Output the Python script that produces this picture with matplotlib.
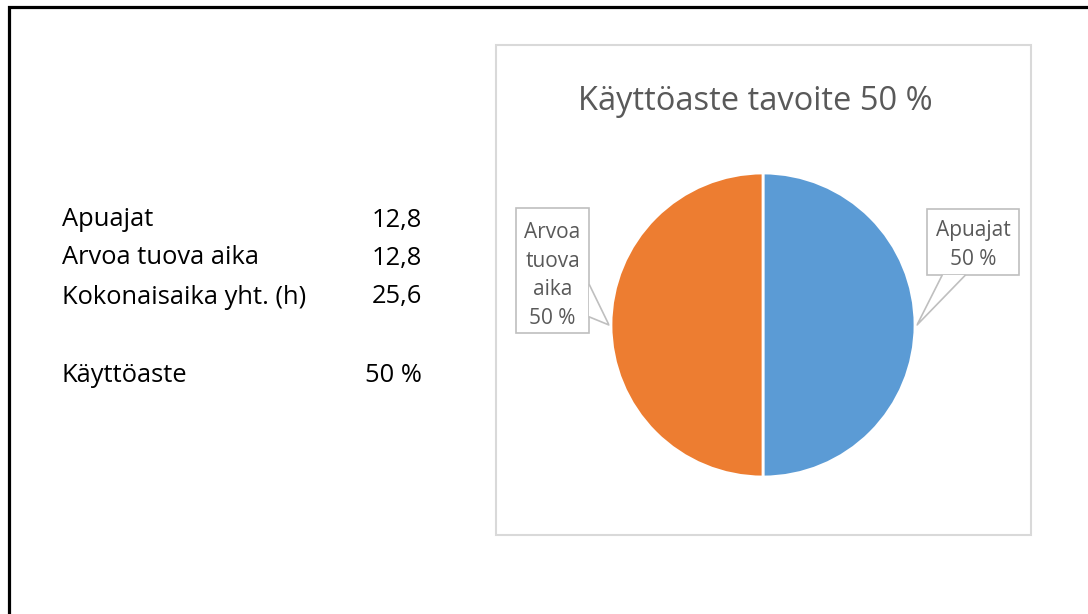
import matplotlib
matplotlib.use('Agg')
import matplotlib.pyplot as plt
from matplotlib.patches import Rectangle, Polygon

plt.rcParams['font.family'] = ['Open Sans', 'DejaVu Sans']

# data
slice_names = ['Apuajat', 'Arvoa tuova aika']
slice_hours = [12.8, 12.8]
slice_colors = ['#5B9BD5', '#ED7D31']
total_hours = sum(slice_hours)
target_pct = 50

table_names = ['Apuajat', 'Arvoa tuova aika', 'Kokonaisaika yht. (h)', '', 'Käyttöaste']
table_values = ['12,8', '12,8', '25,6', '', f'{round(100 * slice_hours[0] / total_hours)} %']

W, H = 1088, 614
fig = plt.figure(figsize=(W / 100, H / 100), dpi=100)

# overlay in pixel coords (origin top-left)
ov = fig.add_axes([0, 0, 1, 1])
ov.set_xlim(0, W)
ov.set_ylim(H, 0)
ov.axis('off')

# sheet border (only top and left visible)
ov.plot([9, 9, W + 5], [H + 5, 7, 7], color='black', lw=2.3, solid_joinstyle='miter')

# left table
row_y = [220, 258, 297, 336, 375]
for name, val, y in zip(table_names, table_values, row_y):
    if not name:
        continue
    ov.text(62, y, name, fontsize=18.4, ha='left', va='center', color='black')
    ov.text(422, y, val, fontsize=18.4, ha='right', va='center', color='black')

# chart area
ov.add_patch(Rectangle((496, 45), 535, 490, fill=False, edgecolor='#D9D9D9', lw=1.5))
ov.text(755, 101, f'Käyttöaste tavoite {target_pct} %', fontsize=23.5, ha='center', va='center',
        color='#595959')

# pie
cx, cy, r = 763, 325, 152
ax = fig.add_axes([(cx - r) / W, (H - cy - r) / H, 2 * r / W, 2 * r / H])
ax.pie(slice_hours, colors=slice_colors, startangle=90, counterclock=False, radius=1,
       wedgeprops=dict(edgecolor='white', linewidth=2))
ax.set_xlim(-1, 1)
ax.set_ylim(-1, 1)
ax.set_aspect('auto')
ax.axis('off')


def to_pixel(x, y):
    dx, dy = ax.transData.transform((x, y))
    return dx, H - dy


pcts = [round(100 * h / total_hours) for h in slice_hours]
gray = '#BFBFBF'

# callout Apuajat
tx, ty = to_pixel(1.0, 0.0)
ov.add_patch(Rectangle((927, 209), 92, 66, facecolor='white', edgecolor=gray, lw=1.2, zorder=3))
ov.add_patch(Polygon([(942, 275), (965, 275), (tx + 2, ty)], closed=True, facecolor='white',
                     edgecolor='none', zorder=4))
ov.plot([942, tx + 2, 965], [275.5, ty, 275.5], color=gray, lw=1.2, zorder=5)
ov.text(973, 245, f'{slice_names[0]}\n{pcts[0]} %', fontsize=15, ha='center', va='center',
        color='#595959', linespacing=1.46, zorder=6)

# callout Arvoa tuova aika
tx, ty = to_pixel(-1.0, 0.0)
ov.add_patch(Rectangle((516, 208), 73, 125, facecolor='white', edgecolor=gray, lw=1.2, zorder=3))
ov.add_patch(Polygon([(589, 285), (589, 317), (tx - 2, ty)], closed=True, facecolor='white',
                     edgecolor='none', zorder=4))
ov.plot([589.5, tx - 2, 589.5], [285, ty, 317], color=gray, lw=1.2, zorder=5)
ov.text(552.5, 275.5, '\n'.join(slice_names[1].split()) + f'\n{pcts[1]} %', fontsize=15,
        ha='center', va='center', color='#595959', linespacing=1.46, zorder=6)

fig.savefig('out.png', dpi=100)
